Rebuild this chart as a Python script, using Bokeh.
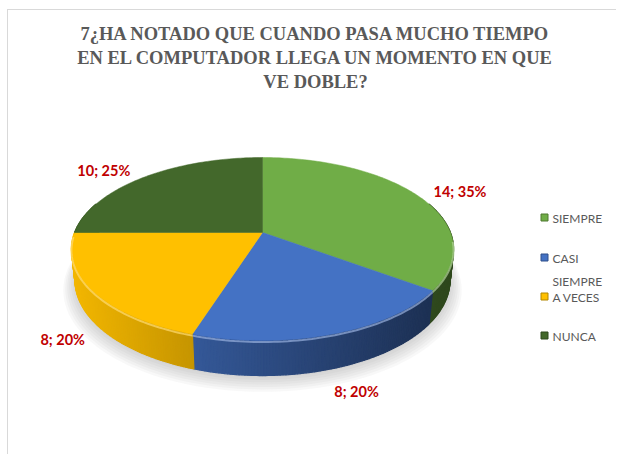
import numpy as np
from bokeh.plotting import figure
from bokeh.models import Range1d, Label
from bokeh.embed import file_html
from bokeh.resources import INLINE
from bokeh.core.properties import value

# ---------------- data ----------------
categories = ["SIEMPRE", "CASI SIEMPRE", "A VECES", "NUNCA"]
counts = [14, 8, 8, 10]
percents = [35, 20, 20, 25]
colors = ["#70AD47", "#4472C4", "#FFC000", "#43682B"]
legend_labels = ["SIEMPRE", "CASI\nSIEMPRE", "A VECES", "NUNCA"]
title_lines = [
    "7¿HA NOTADO QUE CUANDO PASA MUCHO TIEMPO",
    "EN EL COMPUTADOR LLEGA UN MOMENTO EN QUE",
    "VE DOBLE?",
]

# ---------------- layout / style ----------------
ML, MT = 7, 9                  # outer offset of the framed chart
W, H = 609, 445
X0, Y0 = ML + 1, MT + 1        # page position of the canvas origin
CX, CY = 262.0, 232.0          # pie apex in page pixels
K, D = 919.0, 4.89             # perspective scale / distance
S_EL, C_EL = 0.471, 0.882      # sin/cos of elevation
DEPTH = 0.189                  # pie thickness (radius units)
LABEL_R = 1.1
label_nudge = [(2, 0), (17, 10), (8, 9), (-4, -2)]
title_y = [33, 57, 81]
title_x = 315


def proj(X, Y, Z):
    X = np.asarray(X, float); Y = np.asarray(Y, float); Z = np.asarray(Z, float)
    v = Y * S_EL + Z * C_EL
    w = Y * C_EL - Z * S_EL
    den = D + w
    return CX + K * X / den, CY - K * v / den


def shade(hexcol, f):
    h = hexcol.lstrip("#")
    r, g, b = (int(h[i:i + 2], 16) for i in (0, 2, 4))
    if f <= 1:
        r, g, b = r * f, g * f, b * f
    else:
        t = f - 1
        r, g, b = r + (255 - r) * t, g + (255 - g) * t, b + (255 - b) * t
    return "#%02x%02x%02x" % (int(min(255, max(0, r))), int(min(255, max(0, g))), int(min(255, max(0, b))))


p = figure(width=W, height=H, x_range=Range1d(X0, X0 + W), y_range=Range1d(Y0 + H, Y0),
           output_backend="svg", toolbar_location=None, min_border=0)
p.axis.visible = False
p.grid.visible = False
p.outline_line_color = None
p.background_fill_color = "white"
p.border_fill_color = "white"
p.styles = {"margin-left": "%dpx" % ML, "margin-top": "%dpx" % MT,
            "border-top": "1px solid #D9D9D9", "border-left": "1px solid #D9D9D9"}

leg_x_marker, leg_x_text = 544, 552
leg_y = [217, 257, 296, 335]

total = float(sum(counts))
fr = np.array(counts) / total
ends = np.cumsum(fr) * 360.0
starts = ends - fr * 360.0

# ---------------- shadow ----------------
th_all = np.radians(np.linspace(0, 360, 181))
for j in range(7):
    r = 1.0 + 0.01 * j
    sx, sy = proj(r * np.sin(th_all), r * np.cos(th_all), np.full_like(th_all, -DEPTH))
    p.patch(sx, sy + 2 + j, fill_color="#808080", fill_alpha=0.06, line_color=None)

# ---------------- side walls ----------------
xmin, xmax = CX - K / D * 1.01, CX + K / D * 1.01
qx, qy, qc = [], [], []
for i in range(len(counts)):
    a0, a1 = max(starts[i], 70.0), min(ends[i], 290.0)
    if a1 <= a0:
        continue
    n = max(2, int((a1 - a0) / 0.75))
    th = np.radians(np.linspace(a0, a1, n + 1))
    X, Y = np.sin(th), np.cos(th)
    tx, ty = proj(X, Y, np.zeros_like(X))
    bx, by = proj(X, Y, np.full_like(X, -DEPTH))
    for k in range(n):
        xm = (tx[k] + tx[k + 1]) / 2
        t = (xm - xmin) / (xmax - xmin)
        f = max(0.42, 0.95 - 0.55 * t)
        qx.append([tx[k], tx[k + 1], bx[k + 1], bx[k]])
        qy.append([ty[k], ty[k + 1], by[k + 1], by[k]])
        qc.append(shade(colors[i], f))
p.patches(qx, qy, fill_color=qc, line_color=qc, line_width=1.2)

# ---------------- top faces ----------------
for i in range(len(counts)):
    n = max(4, int((ends[i] - starts[i]) / 1.0))
    th = np.radians(np.linspace(starts[i], ends[i], n + 1))
    ax, ay = proj(np.sin(th), np.cos(th), np.zeros_like(th))
    xs = np.concatenate([[CX], ax])
    ys = np.concatenate([[CY], ay])
    p.patch(xs, ys, fill_color=colors[i], line_color=colors[i], line_width=0.5)

# rim highlight on front edge
for i in range(len(counts)):
    a0, a1 = max(starts[i], 95.0), min(ends[i], 268.0)
    if a1 <= a0:
        continue
    th = np.radians(np.linspace(a0, a1, 60))
    ax, ay = proj(np.sin(th), np.cos(th), np.zeros_like(th))
    p.line(ax, ay + 1.5, line_color=shade(colors[i], 1.45), line_width=2, line_alpha=0.7)

# ---------------- data labels ----------------
for i in range(len(counts)):
    mid = np.radians((starts[i] + ends[i]) / 2)
    X, Y = LABEL_R * np.sin(mid), LABEL_R * np.cos(mid)
    Z = -DEPTH if Y < 0 else 0.0
    lx, ly = proj(X, Y, Z)
    lx, ly = float(lx) + label_nudge[i][0], float(ly) + label_nudge[i][1]
    if abs(lx - CX) < 120:
        align = "center"
    elif lx > CX:
        align = "left"
    else:
        align = "right"
    p.text([lx], [ly], text=["%d; %d%%" % (counts[i], percents[i])], text_align=align,
           text_baseline="middle", text_font=value("Lato"), text_font_style="bold",
           text_font_size="14.5px", text_color="#C00000")

# ---------------- title ----------------
for line, ty in zip(title_lines, title_y):
    p.add_layout(Label(x=title_x, y=ty, text=line, text_align="center",
                       text_baseline="middle", text_font="Liberation Serif",
                       text_font_style="bold", text_font_size="18.5px",
                       text_color="#595959"))

# ---------------- legend ----------------
p.scatter([leg_x_marker] * len(categories), leg_y, marker="square", size=7,
          fill_color=colors, line_color=[shade(c, 0.7) for c in colors], line_width=1)
p.text([leg_x_text] * len(categories), [y - 7 for y in leg_y], text=legend_labels,
       text_align="left", text_baseline="top", text_font=value("Lato"),
       text_font_size="12px", text_color="#595959", text_line_height=1.55)

open("out.html", "w").write(file_html(p, INLINE))
